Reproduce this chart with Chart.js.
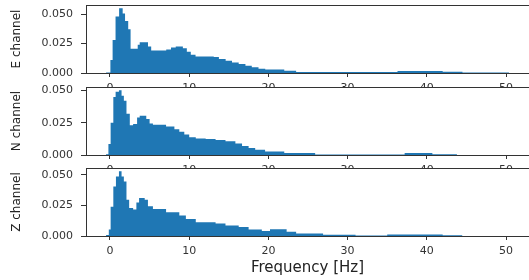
<!DOCTYPE html>
<html lang="en">
<head>
  <meta charset="UTF-8" />
  <title>Frequency histograms E / N / Z</title>
  <script src="https://cdn.jsdelivr.net/npm/chart.js"></script>
  <style>
    html, body { margin: 0; padding: 0; background: #fff; overflow: hidden; }
    #wrap { position: relative; width: 529px; height: 280px; }
    /* die drei Panels liegen übereinander, später gezeichnete verdecken die Ticklabels der oberen */
    #wrap canvas { position: absolute; left: 0; top: 0; }
  </style>
</head>
<body>
  <div id="wrap">
    <canvas id="chartE" width="529" height="280"></canvas>
    <canvas id="chartN" width="529" height="280"></canvas>
    <canvas id="chartZ" width="529" height="280"></canvas>
  </div>

  <script>
    // Achsen-Ticks
    const xTicks = [0, 10, 20, 30, 40, 50];
    const yTicks = [0, 0.025, 0.05];

    // Histogramm-Kanten (Hz) und Dichte je Bin; letzter Wert 0 schließt die Fläche
    const eEdges = [-0.5, 0.05, 0.33, 0.7, 1.15, 1.6, 1.9, 2.3, 2.6, 3.5, 3.75, 4.8, 5.2, 7.1, 7.7, 8.3, 9.2, 9.7,
      10.2, 10.8, 13.1, 13.75, 14.6, 15.4, 16.25, 17.1, 17.9, 18.75, 19.6, 22.0, 23.5, 36.3, 42.0, 44.5, 50.4];
    const eDensity = [0.0005, 0.011, 0.028, 0.048, 0.0549, 0.0505, 0.044, 0.037, 0.0205, 0.024, 0.026, 0.0225, 0.019,
      0.020, 0.0216, 0.0225, 0.021, 0.018, 0.0155, 0.014, 0.0135, 0.0118, 0.0104, 0.009, 0.0076, 0.0062, 0.0048,
      0.0037, 0.003, 0.002, 0.0008, 0.0018, 0.001, 0.0005, 0];

    const nEdges = [-0.5, -0.2, 0.08, 0.42, 0.71, 1.13, 1.46, 1.75, 2.08, 2.5, 2.92, 3.42, 3.75, 4.58, 5.0, 5.42, 7.08,
      8.13, 8.75, 9.38, 10.0, 10.83, 12.08, 13.33, 14.58, 15.83, 16.67, 17.5, 18.33, 19.58, 22.0, 25.9, 37.2, 40.7, 43.8];
    const nDensity = [0.0005, 0.0085, 0.025, 0.045, 0.049, 0.0502, 0.046, 0.042, 0.032, 0.023, 0.024, 0.029, 0.0305,
      0.028, 0.0245, 0.0235, 0.022, 0.020, 0.018, 0.0158, 0.0137, 0.0127, 0.0124, 0.0117, 0.0106, 0.009, 0.007,
      0.0054, 0.004, 0.0028, 0.0016, 0.0004, 0.0015, 0.0006, 0];

    const zEdges = [-0.5, -0.15, 0.08, 0.42, 0.75, 1.13, 1.46, 1.75, 2.08, 2.42, 2.92, 3.33, 3.67, 4.38, 4.79, 5.42,
      7.08, 8.75, 9.58, 10.83, 13.33, 14.58, 16.25, 17.5, 19.17, 20.2, 22.3, 23.5, 26.9, 31.0, 35.0, 42.0, 44.5];
    const zDensity = [0.0008, 0.0054, 0.024, 0.0405, 0.0486, 0.053, 0.0486, 0.0445, 0.0297, 0.023, 0.0216, 0.0275,
      0.031, 0.0297, 0.0243, 0.022, 0.0195, 0.0167, 0.014, 0.0113, 0.0103, 0.0086, 0.0073, 0.0054, 0.004, 0.0055,
      0.0035, 0.002, 0.001, 0.0004, 0.0012, 0.0006, 0];

    const BLUE = '#1f77b4';
    const INK = '#333';
    const FONT = 'DejaVu Sans';

    // weißer Achsenhintergrund + obere Rahmenlinie (wie matplotlib)
    const axesFrame = {
      id: 'axesFrame',
      beforeDraw(chart) {
        const { ctx, chartArea: a } = chart;
        ctx.save();
        ctx.fillStyle = '#fff';
        ctx.fillRect(a.left, a.top, a.right - a.left, a.bottom - a.top);
        ctx.restore();
      },
      afterDraw(chart) {
        const { ctx, chartArea: a } = chart;
        ctx.save();
        ctx.strokeStyle = INK;
        ctx.lineWidth = 1;
        ctx.beginPath();
        ctx.moveTo(a.left, a.top + 0.5);
        ctx.lineTo(a.right, a.top + 0.5);
        ctx.stroke();
        ctx.restore();
      }
    };

    function makePanel(id, label, edges, density, top, bottom, withTitle) {
      const axisH = withTitle ? 44 : 30;
      const points = edges.map((x, i) => ({ x: x, y: density[i] }));
      const yMax = Math.max(...density) * 1.05;

      return new Chart(document.getElementById(id), {
        type: 'line',
        data: {
          datasets: [{
            data: points,
            stepped: true,
            fill: 'origin',
            backgroundColor: BLUE,
            borderColor: BLUE,
            borderWidth: 0,
            pointRadius: 0
          }]
        },
        options: {
          responsive: false,
          animation: false,
          layout: { padding: { top: top, left: 0, right: 0, bottom: 280 - bottom - axisH } },
          plugins: { legend: { display: false }, tooltip: { enabled: false } },
          scales: {
            x: {
              type: 'linear',
              min: -3.03,
              max: 52.9,
              afterBuildTicks: (s) => { s.ticks = xTicks.map(v => ({ value: v })); },
              afterFit: (s) => { s.height = axisH; s.paddingLeft = 0; s.paddingRight = 0; },
              ticks: {
                color: INK,
                font: { family: FONT, size: 11 },
                maxRotation: 0,
                autoSkip: false,
                padding: 5
              },
              grid: { drawOnChartArea: false, drawTicks: true, tickLength: 4, color: INK },
              border: { display: true, color: INK, width: 1, z: 1 },
              title: {
                display: withTitle,
                text: 'Frequency [Hz]',
                color: '#222',
                font: { family: FONT, size: 15 },
                padding: { top: 0, bottom: 3 }
              }
            },
            y: {
              min: 0,
              max: yMax,
              afterBuildTicks: (s) => { s.ticks = yTicks.map(v => ({ value: v })); },
              afterFit: (s) => { s.width = 86; s.paddingTop = 0; s.paddingBottom = 0; },
              ticks: {
                color: INK,
                font: { family: FONT, size: 11 },
                padding: 8,
                callback: (v) => v.toFixed(3)
              },
              grid: { drawOnChartArea: false, drawTicks: true, tickLength: 5, color: INK },
              border: { display: true, color: INK, width: 1, z: 1 },
              title: {
                display: true,
                text: label,
                color: '#222',
                font: { family: FONT, size: 12 },
                padding: { top: 10, bottom: 0 }
              }
            }
          }
        },
        plugins: [axesFrame]
      });
    }

    makePanel('chartE', 'E channel', eEdges, eDensity, 5, 73, false);
    makePanel('chartN', 'N channel', nEdges, nDensity, 87, 155, false);
    makePanel('chartZ', 'Z channel', zEdges, zDensity, 168, 236, true);
  </script>
</body>
</html>
